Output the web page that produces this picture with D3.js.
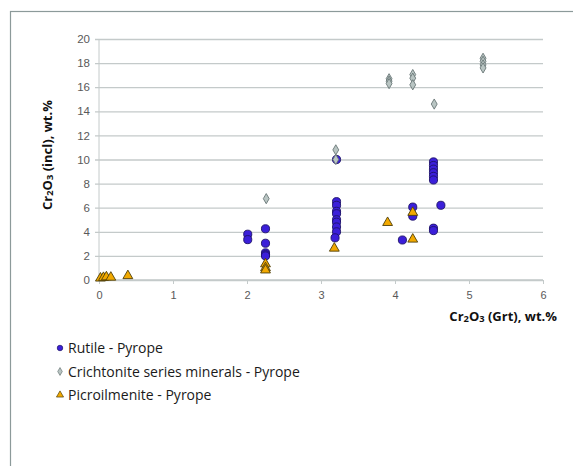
<!DOCTYPE html>
<html lang="en">
<head>
  <meta charset="UTF-8" />
  <title>Cr2O3 inclusions vs garnet</title>
  <script src="https://d3js.org/d3.v7.min.js"></script>
  <style>
    body {
      margin: 0;
      background: #fff;
    }
    svg {
      display: block;
      font-family: "Open Sans", "DejaVu Sans", sans-serif;
    }
  </style>
</head>
<body>
  <svg width="573" height="466"></svg>

  <script>
    // Values: [Cr2O3 in garnet, Cr2O3 in inclusion]
    const rutile = [
      [2.01, 3.8], [2.01, 3.35],
      [2.25, 4.25], [2.25, 3.05], [2.25, 2.25], [2.25, 2.1], [2.25, 2.0],
      [3.21, 10.0], [3.21, 6.5], [3.21, 6.2], [3.21, 5.7], [3.21, 5.5],
      [3.21, 5.0], [3.21, 4.8], [3.21, 4.4], [3.21, 4.0], [3.19, 3.5],
      [4.1, 3.32],
      [4.24, 6.05], [4.24, 5.3],
      [4.52, 9.8], [4.52, 9.5], [4.52, 9.2], [4.52, 8.9], [4.52, 8.6], [4.52, 8.3],
      [4.52, 4.3], [4.52, 4.1],
      [4.62, 6.2]
    ];
    const crichtonite = [
      [2.26, 6.75],
      [3.2, 10.8], [3.2, 10.0],
      [3.92, 16.7], [3.92, 16.5], [3.92, 16.3],
      [4.24, 17.05], [4.24, 16.75], [4.24, 16.2],
      [4.53, 14.6],
      [5.19, 18.4], [5.19, 18.15], [5.19, 17.85], [5.19, 17.6]
    ];
    const picroilmenite = [
      [0.02, 0.15], [0.06, 0.2], [0.1, 0.25], [0.16, 0.22],
      [0.39, 0.35],
      [2.25, 1.33], [2.25, 1.0], [2.25, 0.82],
      [3.18, 2.63],
      [3.9, 4.76],
      [4.24, 5.6], [4.24, 3.38]
    ];
    const xTicks = [0, 1, 2, 3, 4, 5, 6];
    const yTicks = [0, 2, 4, 6, 8, 10, 12, 14, 16, 18, 20];
    const legendLabels = [
      "Rutile - Pyrope",
      "Crichtonite series  minerals - Pyrope",
      "Picroilmenite - Pyrope"
    ];

    const svg = d3.select("svg");
    const x = d3.scaleLinear().domain([0, 6]).range([99, 543]);
    const y = d3.scaleLinear().domain([0, 20]).range([280, 39]);

    const gridColor = "#c4caca";
    const labelColor = "#595959";

    // chart frame (runs off the right and bottom edges)
    svg.append("rect")
      .attr("x", 10.5).attr("y", 11.5)
      .attr("width", 620).attr("height", 520)
      .attr("fill", "none")
      .attr("stroke", "#8c9a9a")
      .attr("stroke-width", 1.2);

    // horizontal gridlines + left tick marks
    const yAxis = d3.axisLeft(y)
      .tickValues(yTicks)
      .tickFormat(d3.format("d"))
      .tickSize(-(x(6) - x(0)))
      .tickPadding(8);
    const gy = svg.append("g")
      .attr("transform", `translate(${x(0)},0)`)
      .call(yAxis);
    gy.selectAll(".tick line")
      .attr("x1", -4)
      .attr("stroke", gridColor)
      .attr("stroke-width", 1.3);
    gy.select(".domain")
      .attr("stroke", gridColor)
      .attr("d", `M0,${y(20)}V${y(0)}`);
    gy.selectAll(".tick text")
      .attr("fill", labelColor)
      .attr("font-size", 11.5)
      .attr("x", -9);

    // x axis
    const xAxis = d3.axisBottom(x)
      .tickValues(xTicks)
      .tickFormat(d3.format("d"))
      .tickSize(4)
      .tickPadding(7);
    const gx = svg.append("g")
      .attr("transform", `translate(0,${y(0)})`)
      .call(xAxis);
    gx.select(".domain")
      .attr("stroke", gridColor)
      .attr("stroke-width", 1.3)
      .attr("d", `M${x(0)},0H${x(6)}`);
    gx.selectAll(".tick line").attr("stroke", gridColor);
    gx.selectAll(".tick text")
      .attr("fill", labelColor)
      .attr("font-size", 11);

    // axis titles with subscripts
    function chemTitle(sel, rest) {
      sel.append("tspan").text("Cr");
      sel.append("tspan").attr("font-size", "0.72em").attr("dy", 1).text("2");
      sel.append("tspan").attr("dy", -1).text("O");
      sel.append("tspan").attr("font-size", "0.72em").attr("dy", 1).text("3");
      sel.append("tspan").attr("dy", -1).text(rest);
    }

    svg.append("text")
      .attr("x", 557).attr("y", 321)
      .attr("text-anchor", "end")
      .attr("font-weight", "bold")
      .attr("font-size", 13)
      .attr("fill", "#111")
      .call(chemTitle, " (Grt), wt.%");

    svg.append("text")
      .attr("transform", "translate(52,155) rotate(-90)")
      .attr("text-anchor", "middle")
      .attr("font-weight", "bold")
      .attr("font-size", 13)
      .attr("fill", "#111")
      .call(chemTitle, " (incl), wt.%");

    // marker shapes
    const circleSym = d3.symbol().type(d3.symbolCircle).size(52);
    const diamondSym = d3.symbol().type(d3.symbolDiamond).size(30);
    const triSym = d3.symbol().type(d3.symbolTriangle).size(42);

    const series = [
      { data: rutile, sym: circleSym, fill: "#3b1fd9", stroke: "#1d1266", legSym: d3.symbol().type(d3.symbolCircle).size(24) },
      { data: crichtonite, sym: diamondSym, fill: "#b9c5c3", stroke: "#6a7777", legSym: d3.symbol().type(d3.symbolDiamond).size(18) },
      { data: picroilmenite, sym: triSym, fill: "#f2a900", stroke: "#4f3f0a", legSym: d3.symbol().type(d3.symbolTriangle).size(22) }
    ];

    series.forEach(s => {
      svg.append("g")
        .selectAll("path")
        .data(s.data)
        .enter()
        .append("path")
        .attr("d", s.sym)
        .attr("transform", d => `translate(${x(d[0])},${y(d[1])})`)
        .attr("fill", s.fill)
        .attr("stroke", s.stroke)
        .attr("stroke-width", 0.9);
    });

    // legend
    const legend = svg.append("g");
    series.forEach((s, i) => {
      const ly = 348 + i * 23.5;
      legend.append("path")
        .attr("d", s.legSym)
        .attr("transform", `translate(60,${ly})`)
        .attr("fill", s.fill)
        .attr("stroke", s.stroke)
        .attr("stroke-width", 0.7);
      legend.append("text")
        .attr("x", 68).attr("y", ly + 5)
        .attr("font-size", 14)
        .attr("fill", "#1a1a1a")
        .text(legendLabels[i]);
    });
  </script>
</body>
</html>
